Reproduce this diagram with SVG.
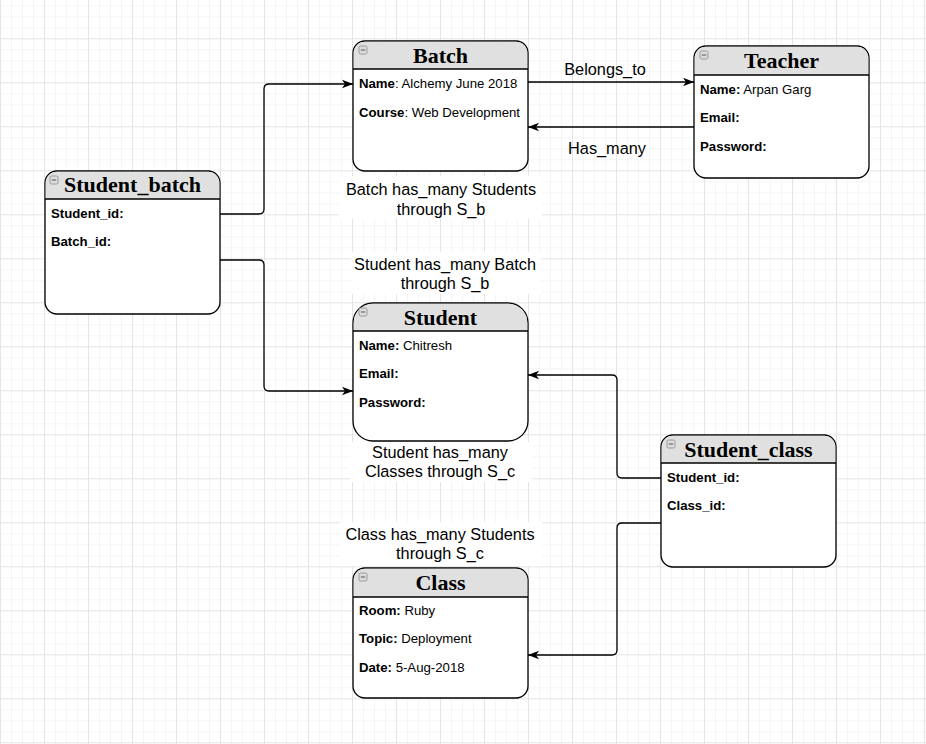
<svg xmlns="http://www.w3.org/2000/svg" width="926" height="744" viewBox="0 0 926 744">
<defs>
<pattern id="grid" patternUnits="userSpaceOnUse" x="0" y="38.3" width="44" height="44">
<path d="M11.5,0V44M22.5,0V44M33.5,0V44M0,11.5H44M0,22.5H44M0,33.5H44" stroke="#f5f5f5" stroke-width="1" fill="none"/>
<path d="M0.5,0V44M0,0.5H44" stroke="#e4e4e4" stroke-width="1" fill="none"/>
</pattern>
<marker id="arr" markerUnits="userSpaceOnUse" markerWidth="12" markerHeight="10" refX="11" refY="5" orient="auto">
<path d="M0,0.8 L11,5 L0,9.2 L3,5 Z" fill="#000"/>
</marker>
<g id="minus">
<rect x="0" y="0" width="8" height="8" rx="1.5" fill="#dcdcdc" stroke="#8a8a8a" stroke-width="0.8"/>
<path d="M1.8,4H6.2" stroke="#6a6a6a" stroke-width="1.2"/>
</g>
</defs>
<style>
.box{fill:#fff;stroke:#000;stroke-width:1.3}
.hdr{fill:#e0e0e0;stroke:none}
.sep{stroke:#000;stroke-width:1.3;fill:none}
.title{font-family:"Liberation Serif",serif;font-weight:bold;font-size:22px;fill:#000;text-anchor:middle}
.fld{font-family:"Liberation Sans",Arial,sans-serif;font-size:13.2px;fill:#000}
.fld .b{font-weight:bold}
.lbl{font-family:"Liberation Sans",Arial,sans-serif;font-size:16.3px;fill:#000;text-anchor:middle}
.edge{fill:none;stroke:#000;stroke-width:1.3}
.lbg{fill:#fff;stroke:none}
</style>
<rect width="926" height="744" fill="#fff"/>
<rect width="926" height="744" fill="url(#grid)"/>

<g id="connectors">
<path class="edge" d="M220,214 H259 Q264,214 264,209 V89 Q264,84 269,84 H353" marker-end="url(#arr)"/>
<path class="edge" d="M220,260 H259 Q264,260 264,265 V386 Q264,391 269,391 H353" marker-end="url(#arr)"/>
<path class="edge" d="M528,82 H694" marker-end="url(#arr)"/>
<path class="edge" d="M694,127 H528" marker-end="url(#arr)"/>
<path class="edge" d="M661,478 H622 Q617,478 617,473 V380 Q617,375 612,375 H528" marker-end="url(#arr)"/>
<path class="edge" d="M661,523 H622 Q617,523 617,528 V650 Q617,655 612,655 H528" marker-end="url(#arr)"/>
<text class="lbl" x="605" y="75">Belongs_to</text>
<text class="lbl" x="607" y="154">Has_many</text>
</g>

<g id="label-batch-students">
<rect class="lbg" x="339" y="176" width="203" height="43"/>
<text class="lbl" x="441" y="195">Batch has_many Students</text>
<text class="lbl" x="441" y="215">through S_b</text>
</g>
<g id="label-student-batch">
<rect class="lbg" x="351" y="252" width="190" height="42"/>
<text class="lbl" x="445" y="270">Student has_many Batch</text>
<text class="lbl" x="445" y="289">through S_b</text>
</g>
<g id="label-student-classes">
<rect class="lbg" x="350" y="442" width="182" height="40"/>
<text class="lbl" x="440" y="458">Student has_many</text>
<text class="lbl" x="440" y="477">Classes through S_c</text>
</g>
<g id="label-class-students">
<rect class="lbg" x="340" y="522" width="202" height="44"/>
<text class="lbl" x="440" y="540">Class has_many Students</text>
<text class="lbl" x="440" y="559">through S_c</text>
</g>

<g id="batch">
<rect class="box" x="353" y="41" width="175" height="130" rx="12"/>
<path class="hdr" d="M353.7,69 V53 A11.3,11.3 0 0 1 365,41.7 H516 A11.3,11.3 0 0 1 527.3,53 V69 Z"/>
<path class="sep" d="M353,69 H528"/>
<use href="#minus" x="359" y="46"/>
<text class="title" x="440.5" y="63">Batch</text>
<text class="fld" x="359" y="88"><tspan class="b">Name</tspan>: Alchemy June 2018</text>
<text class="fld" x="359" y="117"><tspan class="b">Course</tspan>: Web Development</text>
</g>

<g id="teacher">
<rect class="box" x="694" y="46" width="175" height="132" rx="12"/>
<path class="hdr" d="M694.7,75 V58 A11.3,11.3 0 0 1 706,46.7 H857 A11.3,11.3 0 0 1 868.3,58 V75 Z"/>
<path class="sep" d="M694,75 H869"/>
<use href="#minus" x="700" y="51"/>
<text class="title" x="781.5" y="68">Teacher</text>
<text class="fld" x="700" y="94"><tspan class="b">Name:</tspan> Arpan Garg</text>
<text class="fld" x="700" y="122"><tspan class="b">Email:</tspan></text>
<text class="fld" x="700" y="151"><tspan class="b">Password:</tspan></text>
</g>

<g id="student_batch">
<rect class="box" x="45" y="171" width="175" height="143" rx="12"/>
<path class="hdr" d="M45.7,199 V183 A11.3,11.3 0 0 1 57,171.7 H208 A11.3,11.3 0 0 1 219.3,183 V199 Z"/>
<path class="sep" d="M45,199 H220"/>
<use href="#minus" x="50" y="176"/>
<text class="title" x="132.5" y="192">Student_batch</text>
<text class="fld" x="51" y="218"><tspan class="b">Student_id:</tspan></text>
<text class="fld" x="51" y="246"><tspan class="b">Batch_id:</tspan></text>
</g>

<g id="student">
<rect class="box" x="353" y="303" width="175" height="138" rx="20"/>
<path class="hdr" d="M353.7,331 V323 A19.3,19.3 0 0 1 373,303.7 H508 A19.3,19.3 0 0 1 527.3,323 V331 Z"/>
<path class="sep" d="M353,331 H528"/>
<use href="#minus" x="359" y="308"/>
<text class="title" x="440.5" y="325">Student</text>
<text class="fld" x="359" y="350"><tspan class="b">Name:</tspan> Chitresh</text>
<text class="fld" x="359" y="378"><tspan class="b">Email:</tspan></text>
<text class="fld" x="359" y="407"><tspan class="b">Password:</tspan></text>
</g>

<g id="student_class">
<rect class="box" x="661" y="435" width="175" height="132" rx="12"/>
<path class="hdr" d="M661.7,463 V447 A11.3,11.3 0 0 1 673,435.7 H824 A11.3,11.3 0 0 1 835.3,447 V463 Z"/>
<path class="sep" d="M661,463 H836"/>
<use href="#minus" x="667" y="440"/>
<text class="title" x="748.5" y="457">Student_class</text>
<text class="fld" x="667" y="482"><tspan class="b">Student_id:</tspan></text>
<text class="fld" x="667" y="510"><tspan class="b">Class_id:</tspan></text>
</g>

<g id="class">
<rect class="box" x="353" y="568" width="175" height="130" rx="12"/>
<path class="hdr" d="M353.7,597 V580 A11.3,11.3 0 0 1 365,568.7 H516 A11.3,11.3 0 0 1 527.3,580 V597 Z"/>
<path class="sep" d="M353,597 H528"/>
<use href="#minus" x="359" y="573"/>
<text class="title" x="440.5" y="590">Class</text>
<text class="fld" x="359" y="615"><tspan class="b">Room:</tspan> Ruby</text>
<text class="fld" x="359" y="643"><tspan class="b">Topic:</tspan> Deployment</text>
<text class="fld" x="359" y="672"><tspan class="b">Date:</tspan> 5-Aug-2018</text>
</g>
</svg>
